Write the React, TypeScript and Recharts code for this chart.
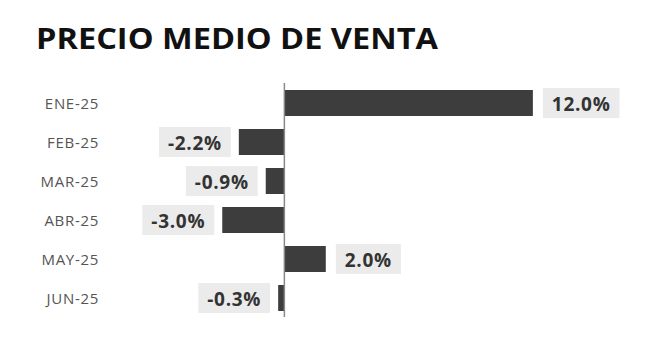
import React from 'react';
import { BarChart, Bar, XAxis, YAxis, ReferenceLine, LabelList } from 'recharts';

const months = ['ENE-25', 'FEB-25', 'MAR-25', 'ABR-25', 'MAY-25', 'JUN-25'];
const changes = [12.0, -2.2, -0.9, -3.0, 2.0, -0.3];

const data = months.map((month, i) => ({ month, value: changes[i] }));

const BAR_COLOR = '#3d3d3d';
const BOX_COLOR = '#ebebeb';
const LABEL_SIZE = 19;
const LABEL_SPACING = 0.7;
const LABEL_FONT = `700 ${LABEL_SIZE}px "Open Sans"`;

let measureCtx: CanvasRenderingContext2D | null = null;
const textWidth = (text: string) => {
  if (!measureCtx) measureCtx = document.createElement('canvas').getContext('2d');
  if (!measureCtx) return text.length * 11;
  measureCtx.font = LABEL_FONT;
  return measureCtx.measureText(text).width + LABEL_SPACING * text.length;
};

const MonthTick: React.FC<any> = ({ y, payload }) => (
  <text x={99} y={y} textAnchor="end" dominantBaseline="central" fill="#555" fontSize={15} fontFamily="Open Sans" fontWeight={400} letterSpacing={0.7}>
    {payload.value}
  </text>
);

// gray tag next to the end of each bar with the percentage
const ValueTag: React.FC<any> = ({ x, y, width, height, value }) => {
  const text = `${Number(value).toFixed(1)}%`;
  const w = textWidth(text) + 18;
  const h = 30;
  const left = Math.min(x, x + width);
  const right = Math.max(x, x + width);
  const boxX = value >= 0 ? right + 10 : left - 8 - w;
  const cy = y + height / 2;
  return (
    <g>
      <rect x={boxX} y={cy - h / 2} width={w} height={h} fill={BOX_COLOR} />
      <text x={boxX + w / 2} y={cy + 1} textAnchor="middle" dominantBaseline="central" fill="#333" fontSize={LABEL_SIZE} fontFamily="Open Sans" fontWeight={700} letterSpacing={LABEL_SPACING}>
        {text}
      </text>
    </g>
  );
};

export default function App() {
  return (
    <div style={{ position: 'absolute', left: 0, top: 0, width: 653, height: 345, background: '#fff' }}>
      <svg width={653} height={70} style={{ position: 'absolute', left: 0, top: 0 }}>
        <text x={36} y={49} fontSize={29} fontWeight={700} fontFamily="Open Sans" fill="#111" textLength={402} lengthAdjust="spacingAndGlyphs">
          PRECIO MEDIO DE VENTA
        </text>
      </svg>
      <BarChart
        width={653}
        height={345}
        data={data}
        layout="vertical"
        margin={{ top: 83, right: 58, bottom: 28, left: 8 }}
      >
        <XAxis type="number" domain={[-9, 15]} hide allowDataOverflow />
        <YAxis type="category" dataKey="month" width={90} axisLine={false} tickLine={false} tick={<MonthTick />} />
        <Bar dataKey="value" fill={BAR_COLOR} barSize={26} isAnimationActive={false}>
          <LabelList dataKey="value" content={<ValueTag />} />
        </Bar>
        <ReferenceLine x={0} stroke="#888" strokeWidth={1.5} />
      </BarChart>
    </div>
  );
}
